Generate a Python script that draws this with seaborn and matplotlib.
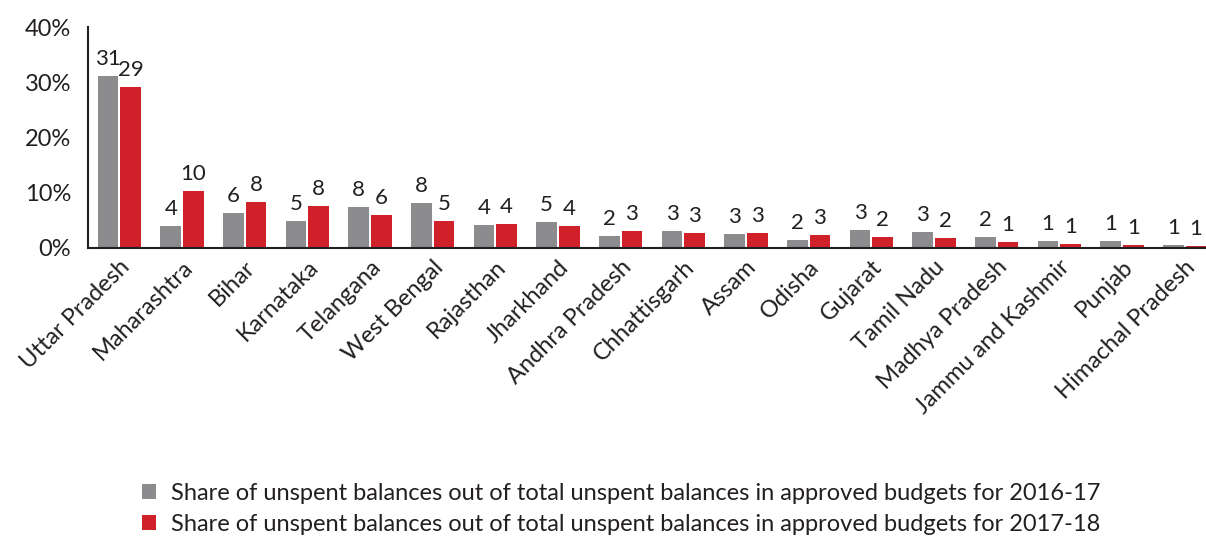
import pandas as pd
import matplotlib
matplotlib.use("Agg")
import matplotlib.pyplot as plt
import seaborn as sns

# Dados (% do total de saldos não gastos)
estados = ["Uttar Pradesh", "Maharashtra", "Bihar", "Karnataka", "Telangana",
           "West Bengal", "Rajasthan", "Jharkhand", "Andhra Pradesh", "Chhattisgarh",
           "Assam", "Odisha", "Gujarat", "Tamil Nadu", "Madhya Pradesh",
           "Jammu and Kashmir", "Punjab", "Himachal Pradesh"]
valores_2016 = [31.2, 4.0, 6.3, 4.9, 7.5, 8.2, 4.2, 4.7, 2.1, 3.1,
                2.5, 1.5, 3.2, 2.9, 2.0, 1.2, 1.2, 0.6]
valores_2017 = [29.1, 10.4, 8.4, 7.6, 5.9, 4.9, 4.3, 4.0, 3.0, 2.8,
                2.8, 2.4, 2.0, 1.9, 1.1, 0.7, 0.5, 0.45]
rotulos_2016 = [31, 4, 6, 5, 8, 8, 4, 5, 2, 3, 3, 2, 3, 3, 2, 1, 1, 1]
rotulos_2017 = [29, 10, 8, 8, 6, 5, 4, 4, 3, 3, 3, 3, 2, 2, 1, 1, 1, 1]
serie_2016 = "Share of unspent balances out of total unspent balances in approved budgets for 2016-17"
serie_2017 = "Share of unspent balances out of total unspent balances in approved budgets for 2017-18"

df = pd.concat([
    pd.DataFrame({"Estado": estados, "Valor": valores_2016, "Serie": serie_2016}),
    pd.DataFrame({"Estado": estados, "Valor": valores_2017, "Serie": serie_2017}),
])

sns.set_theme(style="white")
plt.rcParams["font.family"] = ["Lato", "DejaVu Sans"]

fig = plt.figure(figsize=(12.06, 5.38), dpi=100)
ax = fig.add_axes([88 / 1206, 1 - 248 / 538, 1128 / 1206, 221 / 538])

sns.barplot(data=df, x="Estado", y="Valor", hue="Serie", order=estados,
            palette=["#8c8c8e", "#d0202a"], width=0.72, gap=0.08,
            saturation=1, linewidth=0, ax=ax, legend=True)

for cont, rot in zip(ax.containers, [rotulos_2016, rotulos_2017]):
    ax.bar_label(cont, labels=[str(r) for r in rot], padding=5,
                 fontsize=16, color="#231f20")

ax.set_ylim(0, 40)
ax.set_yticks([0, 10, 20, 30, 40])
ax.set_yticklabels(["0%", "10%", "20%", "30%", "40%"])
ax.set_xlim(-0.5, len(estados) - 0.5)
ax.set_xlabel("")
ax.set_ylabel("")
ax.tick_params(axis="y", length=0, pad=12, labelsize=17, labelcolor="#231f20")
ax.tick_params(axis="x", length=0, pad=6, labelsize=17, labelcolor="#231f20")
plt.setp(ax.get_xticklabels(), rotation=45, ha="right", rotation_mode="anchor")
sns.despine(ax=ax)
for s in ["left", "bottom"]:
    ax.spines[s].set_color("#231f20")
    ax.spines[s].set_linewidth(1.5)

handles, labels = ax.get_legend_handles_labels()
ax.get_legend().remove()
fig.legend(handles, labels, loc="center", bbox_to_anchor=(0.515, 0.054),
           ncol=1, frameon=False, fontsize=17, handlelength=0.6, handleheight=0.6,
           handletextpad=0.6, labelspacing=0.4, labelcolor="#231f20")

fig.savefig("out.png", dpi=100)
plt.close(fig)
